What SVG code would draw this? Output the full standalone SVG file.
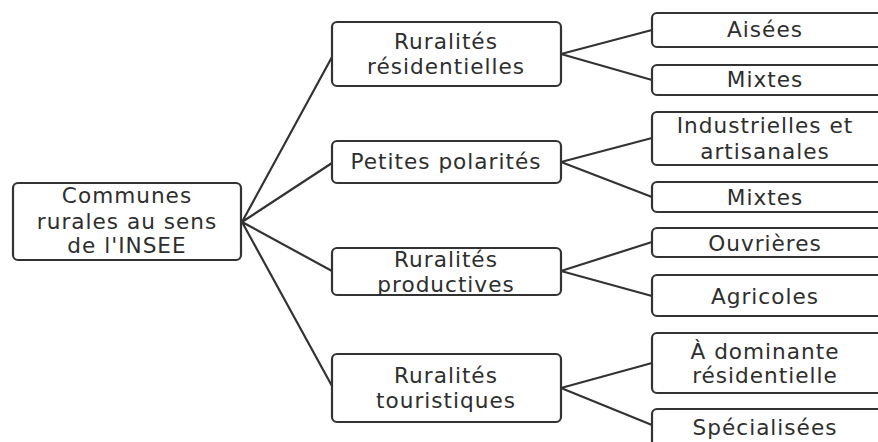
<svg xmlns="http://www.w3.org/2000/svg" width="878" height="442" viewBox="0 0 878 442">
<style>
.box{fill:#fff;stroke:#333;stroke-width:2.2}
.t{font-family:"DejaVu Sans",sans-serif;font-size:21.6px;fill:#2e2e2e;text-anchor:middle;letter-spacing:1px}
.c{stroke:#333;stroke-width:2.2;fill:none}
</style>
<rect width="878" height="442" fill="#fff"/>
<g id="connectors">
<path class="c" d="M242 222L332 57M242 222L332 163M242 222L332 271M242 222L332 386"/>
<path class="c" d="M561 54L652 30M561 54L652 80"/>
<path class="c" d="M561 162L652 138M561 162L652 197"/>
<path class="c" d="M561 271L652 242M561 271L652 296"/>
<path class="c" d="M561 388L652 363M561 388L652 425"/>
</g>
<g id="root"><rect class="box" x="13" y="183" width="228" height="77" rx="5"/>
<text class="t" x="127" y="203">Communes</text><text class="t" x="127" y="229">rurales au sens</text><text class="t" x="127" y="253">de l'INSEE</text></g>
<g id="res"><rect class="box" x="332" y="22" width="229" height="64" rx="5"/>
<text class="t" x="446" y="49">Ruralités</text><text class="t" x="446" y="74">résidentielles</text></g>
<g id="pol"><rect class="box" x="332" y="141" width="229" height="42" rx="5"/>
<text class="t" x="446" y="169">Petites polarités</text></g>
<g id="prod"><rect class="box" x="332" y="248" width="229" height="47" rx="5"/>
<text class="t" x="446" y="267">Ruralités</text><text class="t" x="446" y="292">productives</text></g>
<g id="tour"><rect class="box" x="332" y="354" width="229" height="68" rx="5"/>
<text class="t" x="446" y="383">Ruralités</text><text class="t" x="446" y="408">touristiques</text></g>
<g id="aisees"><rect class="box" x="652" y="13" width="232" height="34" rx="5"/>
<text class="t" x="765" y="37">Aisées</text></g>
<g id="mixtes1"><rect class="box" x="652" y="65" width="232" height="30" rx="5"/>
<text class="t" x="765" y="87">Mixtes</text></g>
<g id="indus"><rect class="box" x="652" y="112" width="232" height="53" rx="5"/>
<text class="t" x="765" y="133">Industrielles et</text><text class="t" x="765" y="159">artisanales</text></g>
<g id="mixtes2"><rect class="box" x="652" y="182" width="232" height="30" rx="5"/>
<text class="t" x="765" y="205">Mixtes</text></g>
<g id="ouvr"><rect class="box" x="652" y="228" width="232" height="29" rx="5"/>
<text class="t" x="765" y="251">Ouvrières</text></g>
<g id="agri"><rect class="box" x="652" y="275" width="232" height="41" rx="5"/>
<text class="t" x="765" y="304">Agricoles</text></g>
<g id="domres"><rect class="box" x="652" y="333" width="232" height="60" rx="5"/>
<text class="t" x="765" y="359">À dominante</text><text class="t" x="765" y="383">résidentielle</text></g>
<g id="spec"><rect class="box" x="652" y="409" width="232" height="40" rx="5"/>
<text class="t" x="765" y="435">Spécialisées</text></g>
</svg>
